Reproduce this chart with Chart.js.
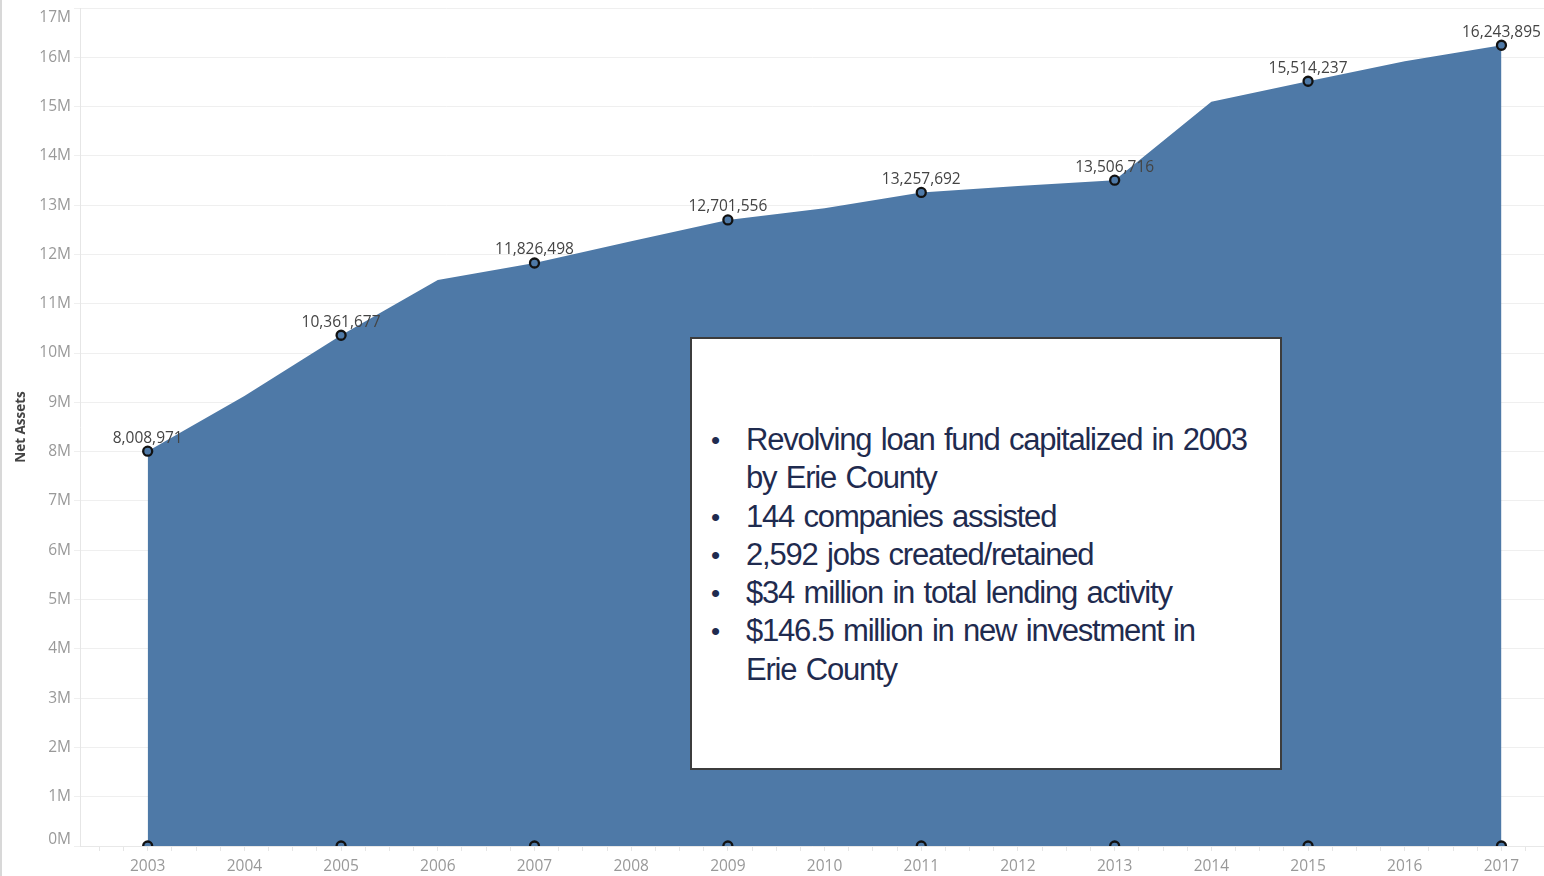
<!DOCTYPE html>
<html>
<head>
<meta charset="utf-8">
<script src="https://cdn.jsdelivr.net/npm/chart.js@4/dist/chart.umd.min.js"></script>
<style>
  html, body { margin: 0; padding: 0; background: #fff; }
  #wrap { position: relative; width: 1544px; height: 876px; overflow: hidden; }
  #leftbar { position: absolute; left: 0; top: 0; width: 2px; height: 876px; background: #d8d8d8; }
  #note {
    position: absolute; left: 690px; top: 337px; width: 588px; height: 429px;
    background: #fff; border: 2px solid #3c3c3c;
    font-family: "Liberation Sans", Arial, sans-serif; color: #1f2b4f;
    font-size: 31px; letter-spacing: -1.2px; word-spacing: 2px; line-height: 38.3px;
  }
  #note ul { list-style: none; margin: 0; padding: 0; position: absolute; left: 0; top: 82px; width: 586px; }
  #note li { position: relative; padding-left: 54px; white-space: nowrap; }
  #note li::before { content: "•"; position: absolute; left: 19px; top: 0; font-size: 26px; }
</style>
</head>
<body>
<div id="wrap">
  <canvas id="c" width="1544" height="876"></canvas>
  <div id="leftbar"></div>
  <div id="note">
    <ul>
      <li>Revolving loan fund capitalized in 2003<br>by Erie County</li>
      <li>144 companies assisted</li>
      <li>2,592 jobs created/retained</li>
      <li>$34 million in total lending activity</li>
      <li>$146.5 million in new investment in<br>Erie County</li>
    </ul>
  </div>
</div>
<script>
const years = [2003, 2004, 2005, 2006, 2007, 2008, 2009, 2010, 2011, 2012, 2013, 2014, 2015, 2016, 2017];
const netAssets = [8008971, 9130000, 10361677, 11480000, 11826498, 12270000, 12701556, 12940000, 13257692, 13390000, 13506716, 15100000, 15514237, 15920000, 16243895];
const labeledYears = [2003, 2005, 2007, 2009, 2011, 2013, 2015, 2017];
const yTickValues = [0,1,2,3,4,5,6,7,8,9,10,11,12,13,14,15,16,17];
const yAxisTitle = "Net Assets";

const BLUE = '#4e79a7';
const FONT = '"Open Sans", "DejaVu Sans", sans-serif';

const areaData = years.map((y, i) => ({ x: y, y: netAssets[i] }));
const baseData = labeledYears.map(y => ({ x: y, y: 0 }));

const labelPlugin = {
  id: 'valueLabels',
  afterDatasetsDraw(chart) {
    const ctx = chart.ctx;
    const meta = chart.getDatasetMeta(0);
    ctx.save();
    ctx.font = '15.5px ' + FONT;
    ctx.fillStyle = '#444';
    ctx.textAlign = 'center';
    ctx.textBaseline = 'middle';
    meta.data.forEach((pt, i) => {
      if (!labeledYears.includes(years[i])) return;
      ctx.fillText(netAssets[i].toLocaleString('en-US'), pt.x, pt.y - 13);
    });
    ctx.restore();
  },
  afterDraw(chart) {
    const ctx = chart.ctx;
    const ys = chart.scales.y;
    const area = chart.chartArea;
    ctx.save();
    ctx.font = '15.5px ' + FONT;
    ctx.fillStyle = '#999';
    ctx.textAlign = 'right';
    const last = yTickValues.length - 1;
    yTickValues.forEach((v, i) => {
      const py = ys.getPixelForValue(v * 1e6);
      let dy = 0;
      ctx.textBaseline = 'middle';
      if (i === 0) dy = -6;
      if (i === last) dy = 10;
      ctx.fillText(v + 'M', 71, py + dy);
    });
    ctx.translate(21, (area.top + area.bottom) / 2);
    ctx.rotate(-Math.PI / 2);
    ctx.font = 'bold 13.5px ' + FONT;
    ctx.fillStyle = '#444';
    ctx.textAlign = 'center';
    ctx.textBaseline = 'middle';
    ctx.fillText(yAxisTitle, 0, 0);
    ctx.restore();
  }
};

new Chart(document.getElementById('c'), {
  type: 'line',
  data: {
    datasets: [
      {
        data: areaData,
        fill: 'origin',
        backgroundColor: BLUE,
        borderColor: BLUE,
        borderWidth: 0,
        tension: 0,
        pointRadius: ctx => labeledYears.includes(years[ctx.dataIndex]) ? 4.5 : 0,
        pointBackgroundColor: BLUE,
        pointBorderColor: '#111',
        pointBorderWidth: 2.3,
        clip: false,
        order: 1
      },
      {
        data: baseData,
        showLine: false,
        fill: false,
        pointRadius: 4.5,
        pointBackgroundColor: BLUE,
        pointBorderColor: '#111',
        pointBorderWidth: 2.3,
        clip: 0,
        order: 0
      }
    ]
  },
  options: {
    responsive: false,
    animation: false,
    events: [],
    layout: { autoPadding: false, padding: { top: 8, right: 0, left: 0, bottom: 0 } },
    plugins: { legend: { display: false }, tooltip: { enabled: false } },
    scales: {
      x: {
        type: 'linear',
        min: 2002.3,
        max: 2017.44,
        afterFit(s) { s.height = 30; s.paddingLeft = 0; s.paddingRight = 0; },
        afterBuildTicks(s) {
          const t = [];
          for (let v = 2002.5; v <= 2017.44; v += 0.25) t.push({ value: Math.round(v * 100) / 100 });
          s.ticks = t;
        },
        ticks: {
          autoSkip: false,
          maxRotation: 0,
          padding: 6,
          color: '#999',
          font: { family: FONT, size: 15.5 },
          callback: v => Number.isInteger(v) ? String(v) : ''
        },
        grid: { drawOnChartArea: false, tickLength: 5, color: '#e6e6e6' },
        border: { display: true, color: '#e8e8e8' }
      },
      y: {
        min: 0,
        max: 17000000,
        afterFit(s) { s.width = 80; s.paddingTop = 0; s.paddingBottom = 0; },
        afterBuildTicks(s) { s.ticks = yTickValues.map(v => ({ value: v * 1e6 })); },
        ticks: { display: false },
        grid: { color: '#efefef', tickLength: 6, lineWidth: 1 },
        border: { display: true, color: '#e6e6e6' }
      }
    }
  },
  plugins: [labelPlugin]
});
</script>
</body>
</html>
